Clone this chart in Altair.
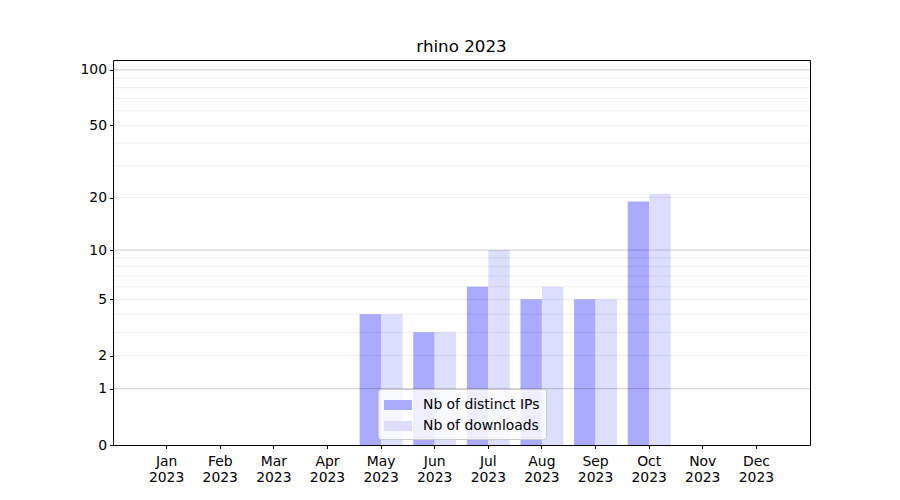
import altair as alt
import pandas as pd

months = ["Jan", "Feb", "Mar", "Apr", "May", "Jun", "Jul", "Aug", "Sep", "Oct", "Nov", "Dec"]
year = "2023"
distinct_ips = [0, 0, 0, 0, 4, 3, 6, 5, 5, 19, 0, 0]
downloads = [0, 0, 0, 0, 4, 3, 10, 6, 5, 21, 0, 0]
series_names = ["Nb of distinct IPs", "Nb of downloads"]
series_colors = ["#aaaaff", "#ddddff"]
y_ticks = [0, 1, 2, 5, 10, 20, 50, 100]
major_grid = [1, 10, 100]
minor_grid = [2, 3, 4, 5, 6, 7, 8, 9, 20, 30, 40, 50, 60, 70, 80, 90]
y_max = 113

rows = []
for m, a, b in zip(months, distinct_ips, downloads):
    rows.append({"month": m, "series": series_names[0], "value": a})
    rows.append({"month": m, "series": series_names[1], "value": b})
df = pd.DataFrame(rows)
major_df = pd.DataFrame({"value": major_grid})
minor_df = pd.DataFrame({"value": minor_grid})

FONT = "DejaVu Sans"
yscale = alt.Scale(type="symlog", constant=1, domain=[0, y_max], nice=False)
yaxis = alt.Axis(
    values=y_ticks,
    title=None,
    grid=False,
    format="d",
    labelFont=FONT,
    labelFontSize=13.9,
    labelColor="black",
    tickColor="black",
    tickSize=3.5,
    labelPadding=3,
    domain=False,
)

bars = alt.Chart(df).mark_bar().encode(
    x=alt.X(
        "month:N",
        sort=months,
        scale=alt.Scale(domain=months, paddingInner=0, paddingOuter=0.5),
        axis=alt.Axis(
            title=None,
            labelAngle=0,
            labelExpr="[datum.label, '" + year + "']",
            labelFont=FONT,
            labelFontSize=13.9,
            labelColor="black",
            labelLineHeight=16,
            tickColor="black",
            tickSize=3.5,
            labelPadding=6,
            domain=False,
            grid=False,
        ),
    ),
    xOffset=alt.XOffset(
        "series:N", sort=series_names,
        scale=alt.Scale(domain=series_names, paddingInner=0, paddingOuter=0.25),
    ),
    y=alt.Y("value:Q", scale=yscale, axis=yaxis),
    color=alt.Color(
        "series:N",
        sort=series_names,
        scale=alt.Scale(domain=series_names, range=series_colors),
        legend=alt.Legend(
            title=None,
            orient="none",
            legendX=265,
            legendY=329,
            symbolType="M-1.4,-0.5H1.4V0.5H-1.4Z",
            symbolSize=400,
            symbolOffset=4,
            symbolStrokeWidth=0,
            symbolOpacity=1,
            labelFont=FONT,
            labelFontSize=13.9,
            labelColor="black",
            labelOffset=15,
            rowPadding=4,
            padding=6,
            fillColor="rgba(255,255,255,0.8)",
            strokeColor="#cccccc",
            cornerRadius=3,
        ),
    ),
)

major = alt.Chart(major_df).mark_rule(color="black", opacity=0.2, strokeWidth=1).encode(
    y=alt.Y("value:Q", scale=yscale, axis=yaxis)
)
minor = alt.Chart(minor_df).mark_rule(color="black", opacity=0.07, strokeWidth=1).encode(
    y=alt.Y("value:Q", scale=yscale, axis=yaxis)
)

chart = (
    alt.layer(bars, minor, major)
    .properties(
        width=697,
        height=385,
        autosize=alt.AutoSizeParams(type="none"),
        padding={"left": 105, "top": 52, "right": 82, "bottom": 40},
        title=alt.Title("rhino 2023", font=FONT, fontSize=16.7, fontWeight="normal", color="black", offset=4),
    )
    .configure_view(stroke="black", strokeWidth=1)
)

chart.save("out.html", embed_options={"renderer": "svg", "actions": False})
